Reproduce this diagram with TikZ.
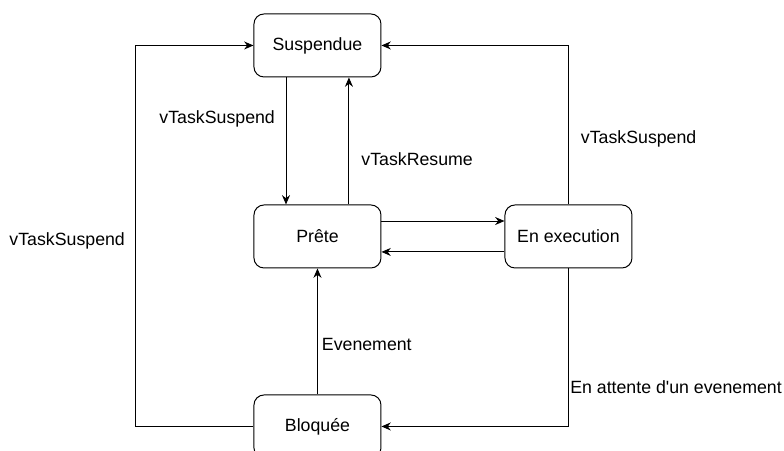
\documentclass[tikz,border=0pt]{standalone}
\usepackage{fontspec}
\setmainfont{Liberation Sans}
\usetikzlibrary{positioning}
\usetikzlibrary{arrows.meta}

\begin{document}
\begin{tikzpicture}[font=\fontsize{13.3pt}{16pt}\selectfont,
    state/.style={draw,rounded corners=7.5pt,minimum width=95.25pt,
        minimum height=47.25pt,line width=0.75pt},
    trans/.style={line width=0.75pt,-{Stealth[length=7pt,width=6pt]}},
    lbl/.style={inner sep=2pt}]
    \useasboundingbox (-238.1pt,34.1pt) rectangle (349.9pt,-303.4pt);
    % the four states
    \node[state] (susp) at (0,0) {Suspendue};
    \node[state,below=95.25pt of susp] (prete) {Prête};
    \node[state,right=92.25pt of prete] (exec) {En execution};
    \node[state,below=94.5pt of prete] (bloq) {Bloquée};
    \coordinate (lc) at (-136.1pt,0);
    % transitions
    \draw[trans] ([xshift=-23.6pt]susp.south) -- node[lbl,pos=0.33,left=6pt]{vTaskSuspend} ([xshift=-23.6pt]prete.north);
    \draw[trans] ([xshift=23.6pt]prete.north) -- node[lbl,pos=0.36,right=7pt]{vTaskResume} ([xshift=23.6pt]susp.south);
    \draw[trans] ([yshift=11.6pt]prete.east) -- ([yshift=11.6pt]exec.west);
    \draw[trans] ([yshift=-11.6pt]exec.west) -- ([yshift=-11.6pt]prete.east);
    \draw[trans] (bloq.north) -- node[lbl,pos=0.4,right=1pt]{Evenement} (prete.south);
    \draw[trans] (bloq.west) -| node[lbl,pos=0.743,left=6pt]{vTaskSuspend} (lc) -- (susp.west);
    \draw[trans] (exec.north) |- node[lbl,pos=0.205,right=7pt]{vTaskSuspend} (susp.east);
    \draw[trans] (exec.south) |- node[lbl,pos=0.375,right=-1pt]{En attente d\textquotesingle un evenement} (bloq.east);
\end{tikzpicture}
\end{document}
